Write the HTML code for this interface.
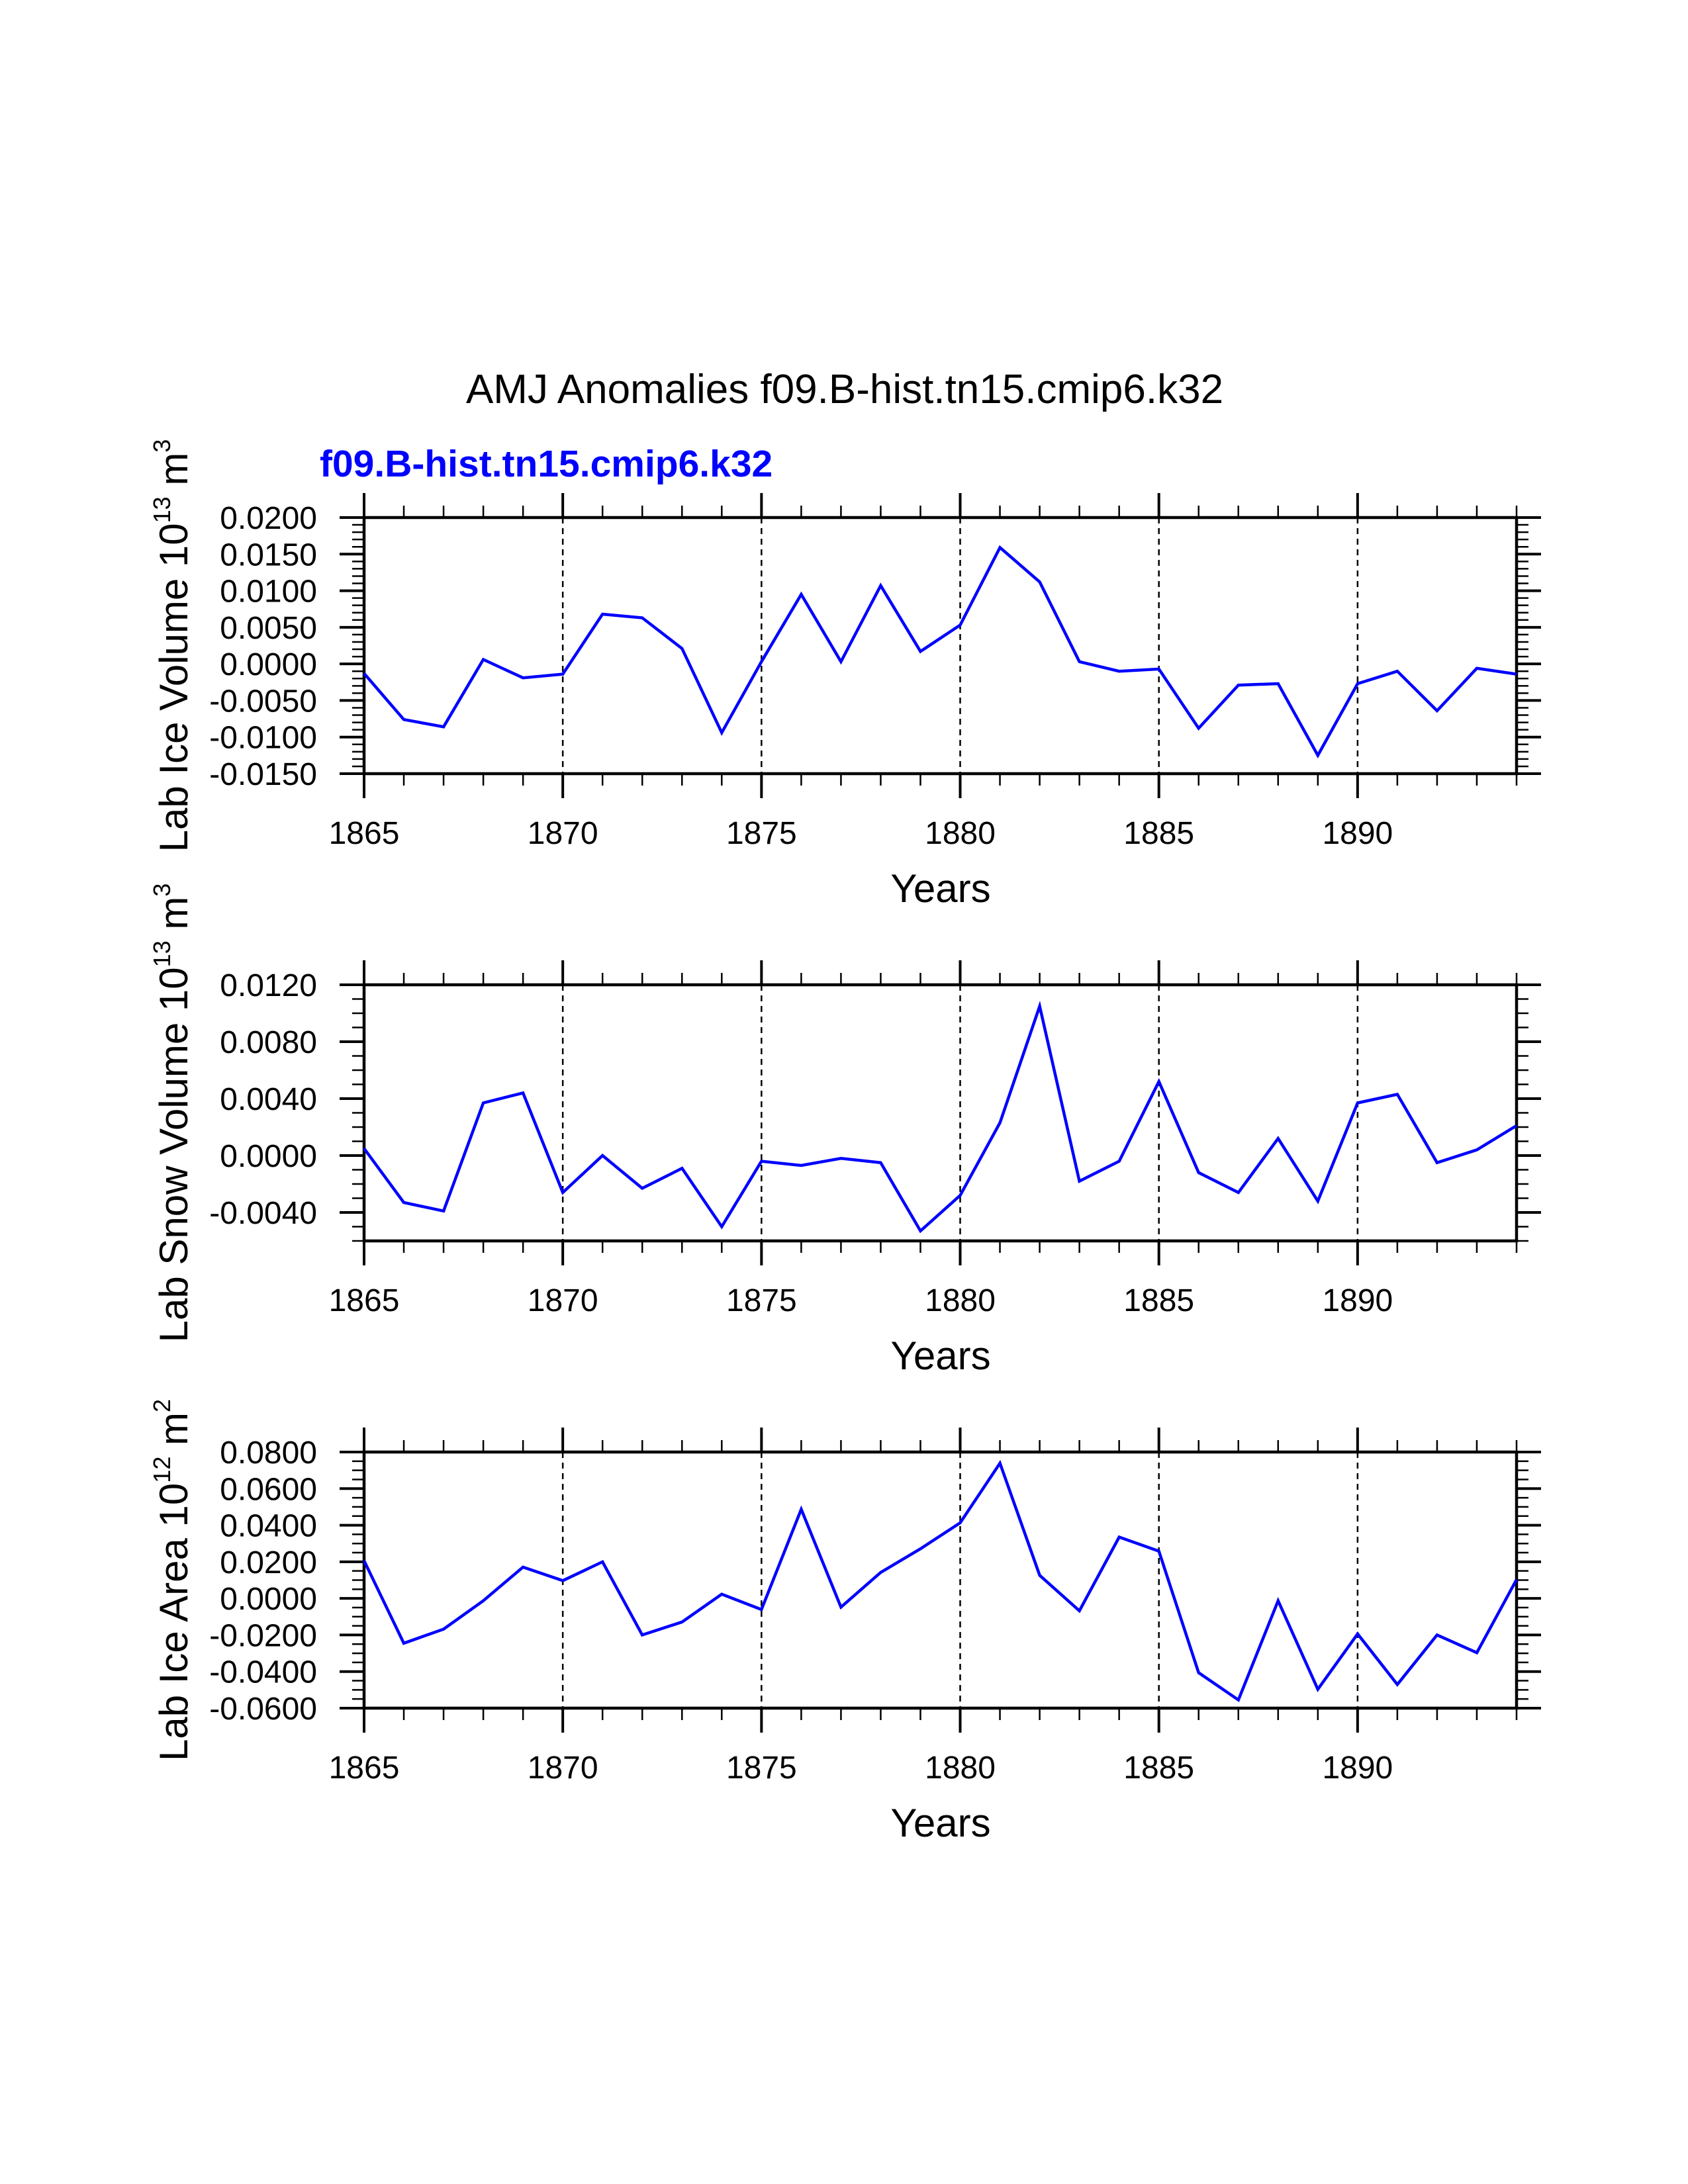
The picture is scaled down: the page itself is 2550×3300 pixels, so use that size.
<!DOCTYPE html>
<html><head><meta charset="utf-8"><style>
html,body{margin:0;padding:0;background:#fff;}
svg{display:block;}
text{font-family:"Liberation Sans",Arial,sans-serif;}
</style></head><body>
<svg id="chart" width="2550" height="3300" viewBox="0 0 2550 3300" xmlns="http://www.w3.org/2000/svg">
<rect width="2550" height="3300" fill="#fff"/>
<text x="1276" y="609" font-size="62" text-anchor="middle">AMJ Anomalies f09.B-hist.tn15.cmip6.k32</text>
<text x="483" y="720" font-size="57" font-weight="bold" fill="#0000ff">f09.B-hist.tn15.cmip6.k32</text>
</svg>
<script>
const years = [1865,1866,1867,1868,1869,1870,1871,1872,1873,1874,1875,1876,1877,1878,1879,1880,1881,1882,1883,1884,1885,1886,1887,1888,1889,1890,1891,1892,1893,1894];
const iceVolume = [-0.0013,-0.0076,-0.0086,0.0006,-0.0019,-0.0014,0.0068,0.0063,0.0021,-0.0094,0.0003,0.0095,0.0003,0.0107,0.0017,0.0053,0.0159,0.0112,0.0003,-0.0010,-0.0007,-0.0088,-0.0029,-0.0027,-0.0125,-0.0027,-0.0010,-0.0064,-0.0006,-0.0014];
const snowVolume = [0.0005,-0.0033,-0.0039,0.0037,0.0044,-0.0026,0.0000,-0.0023,-0.0009,-0.0050,-0.0004,-0.0007,-0.0002,-0.0005,-0.0053,-0.0028,0.0023,0.0105,-0.0018,-0.0004,0.0052,-0.0012,-0.0026,0.0012,-0.0032,0.0037,0.0043,-0.0005,0.0004,0.0021];
const iceArea = [0.0206,-0.0245,-0.0168,-0.0013,0.0171,0.0097,0.0200,-0.0200,-0.0129,0.0023,-0.0061,0.0487,-0.0048,0.0142,0.0271,0.0413,0.0739,0.0126,-0.0068,0.0335,0.0258,-0.0406,-0.0555,-0.0013,-0.0497,-0.0194,-0.0471,-0.0200,-0.0297,0.0103];
const iceVolumeTicks = ["0.0200","0.0150","0.0100","0.0050","0.0000","-0.0050","-0.0100","-0.0150"];
const snowVolumeTicks = ["0.0120","0.0080","0.0040","0.0000","-0.0040"];
const iceAreaTicks = ["0.0800","0.0600","0.0400","0.0200","0.0000","-0.0200","-0.0400","-0.0600"];
const xTickLabels = ["1865","1870","1875","1880","1885","1890"];

const NS = "http://www.w3.org/2000/svg";
const svg = document.getElementById('chart');
function mk(tag, attrs, parent){ const e=document.createElementNS(NS,tag); for(const k in attrs) e.setAttribute(k,attrs[k]); (parent||svg).appendChild(e); return e; }

const L=550, R=2291, H=387;
function xs(y){ return L + (y-1865)*(R-L)/29; }

function panel(cfg){
  const g = mk('g',{});
  
  
  const T=cfg.top, B=T+H;
  const ys = v => T + (cfg.max - v)/(cfg.max-cfg.min)*H;
  // gridlines
  for(let yr=1870; yr<=1890; yr+=5){
    const ln = mk('line',{x1:xs(yr),x2:xs(yr),y1:T,y2:B,stroke:'#000','stroke-width':2.5,'stroke-dasharray':'9 7'},g);
    
    
  }
  // x ticks
  for(let yr=1865; yr<=1894; yr++){
    const major = (yr%5===0), len = major?37:18, w = major?4:2.5;
    mk('line',{x1:xs(yr),x2:xs(yr),y1:B,y2:B+len,stroke:'#000','stroke-width':w},g);
    mk('line',{x1:xs(yr),x2:xs(yr),y1:T,y2:T-len,stroke:'#000','stroke-width':w},g);
  }
  // y ticks
  const nMinor = Math.round((cfg.max-cfg.min)/cfg.minor);
  for(let i=0;i<=nMinor;i++){
    const v = cfg.max - i*cfg.minor;
    const y = T + i*H/nMinor;
    const major = Math.abs(Math.round(v/cfg.major)*cfg.major - v) < cfg.minor*0.01;
    const len = major?37:18, w = major?4:2.5;
    mk('line',{x1:L,x2:L-len,y1:y,y2:y,stroke:'#000','stroke-width':w},g);
    mk('line',{x1:R,x2:R+len,y1:y,y2:y,stroke:'#000','stroke-width':w},g);
  }
  cfg.ticks.forEach(t=>{
    const tx = mk('text',{x:479,y:ys(parseFloat(t))+17,'font-size':48,'text-anchor':'end'},g);
    tx.textContent=t;
    
    
  });
  xTickLabels.forEach(t=>{
    const tx = mk('text',{x:xs(parseFloat(t)),y:B+106,'font-size':48,'text-anchor':'middle'},g);
    tx.textContent=t;
    
    
  });
  // frame
  const fr = mk('rect',{x:L,y:T,width:R-L,height:H,fill:'none',stroke:'#000','stroke-width':4.5},g);
  
  
  // series
  const pts = years.map((yr,i)=>xs(yr).toFixed(1)+','+ys(cfg.data[i]).toFixed(1)).join(' ');
  const pl = mk('polyline',{points:pts,fill:'none',stroke:'#0000ff','stroke-width':4.5,'stroke-linejoin':'miter'},g);
  
  
  // axis titles
  const xt = mk('text',{x:1421,y:B+194,'font-size':60,'text-anchor':'middle'},g);
  xt.textContent='Years';
  
  
  const cy=(T+B)/2;
  const yt = mk('text',{x:0,y:0,'font-size':60,'text-anchor':'middle',transform:'translate(283,'+cy+') rotate(-90)'},g);
  
  
  const parts = [[cfg.label+' 10',0,60],[cfg.exp1,-26,36],[' m',26,60],[cfg.exp2,-26,36]];
  parts.forEach(p=>{ const ts=mk('tspan',{dy:p[1],'font-size':p[2]},yt); ts.textContent=p[0]; });
}

panel({name:'ice-volume-panel',top:782,max:0.02,min:-0.015,major:0.005,minor:0.001,data:iceVolume,ticks:iceVolumeTicks,label:'Lab Ice Volume',exp1:'13',exp2:'3'});
panel({name:'snow-volume-panel',top:1488,max:0.012,min:-0.006,major:0.004,minor:0.001,data:snowVolume,ticks:snowVolumeTicks,label:'Lab Snow Volume',exp1:'13',exp2:'3'});
panel({name:'ice-area-panel',top:2194,max:0.08,min:-0.06,major:0.02,minor:0.005,data:iceArea,ticks:iceAreaTicks,label:'Lab Ice Area',exp1:'12',exp2:'2'});
</script>
</body></html>
